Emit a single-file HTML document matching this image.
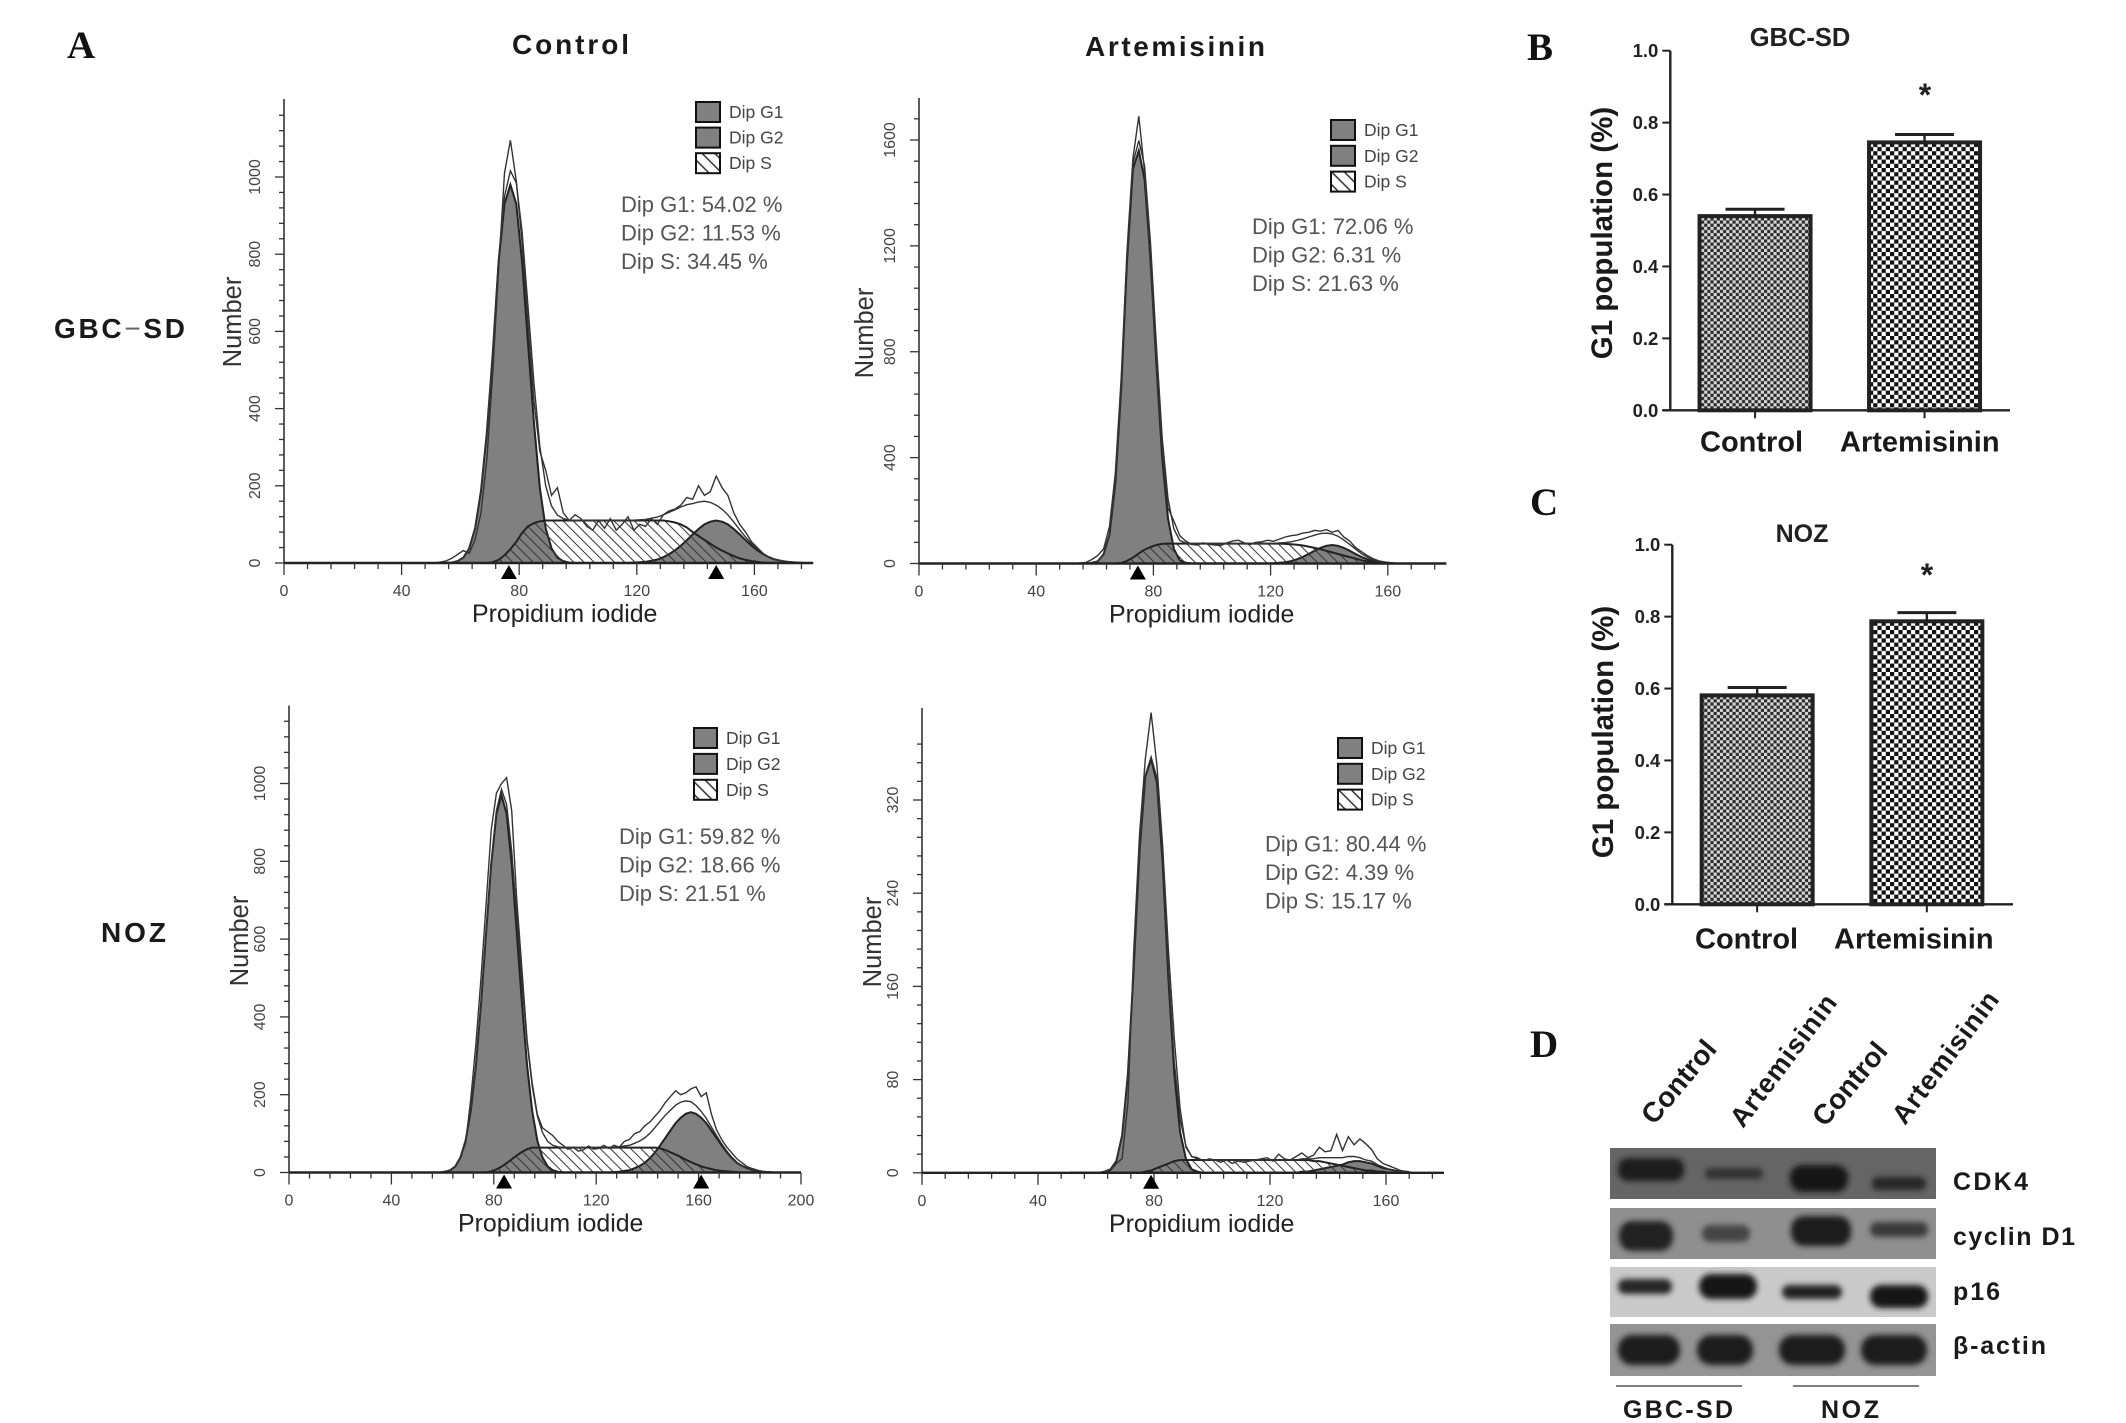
<!DOCTYPE html>
<html lang="en">
<head>
<meta charset="utf-8">
<title>Artemisinin cell cycle figure</title>
<style>
html,body{margin:0;padding:0;background:#fff}
svg{display:block}
text{font-family:"Liberation Sans",Arial,sans-serif}
.panel-letter{font-family:"Liberation Serif","Times New Roman",serif;font-weight:bold;font-size:39px;fill:#111}
.bold{font-weight:bold;fill:#1a1a1a}
</style>
</head>
<body>
<svg id="figure" xmlns="http://www.w3.org/2000/svg" width="2126" height="1423" viewBox="0 0 2126 1423">
<defs>
<pattern id="hatch" patternUnits="userSpaceOnUse" width="7.2" height="7.2" patternTransform="rotate(-45)"><line x1="1" y1="0" x2="1" y2="7.2" stroke="#333" stroke-width="1"/></pattern>
<pattern id="hatch-legend" patternUnits="userSpaceOnUse" width="9" height="9" patternTransform="rotate(-45)"><line x1="1" y1="0" x2="1" y2="9" stroke="#222" stroke-width="1.4"/></pattern>
<pattern id="checker-fine" patternUnits="userSpaceOnUse" width="6.3" height="6.3"><rect width="6.3" height="6.3" fill="#d8d8d8"/><rect width="3.15" height="3.15" fill="#2a2a2a"/><rect x="3.15" y="3.15" width="3.15" height="3.15" fill="#2a2a2a"/></pattern>
<pattern id="checker-coarse" patternUnits="userSpaceOnUse" width="8.4" height="8.4"><rect width="8.4" height="8.4" fill="#fff"/><rect width="4.2" height="4.2" fill="#111"/><rect x="4.2" y="4.2" width="4.2" height="4.2" fill="#111"/></pattern>
<filter id="blot-blur" x="-20%" y="-60%" width="140%" height="220%"><feGaussianBlur stdDeviation="3"/></filter>
<clipPath id="clip-s1"><rect x="1610" y="1148" width="326" height="51"/></clipPath>
<clipPath id="clip-s2"><rect x="1610" y="1208" width="326" height="51"/></clipPath>
<clipPath id="clip-s3"><rect x="1610" y="1267" width="326" height="50"/></clipPath>
<clipPath id="clip-s4"><rect x="1610" y="1324" width="326" height="52"/></clipPath>
</defs>

<text class="panel-letter" x="67" y="58">A</text>
<text class="panel-letter" x="1527" y="60">B</text>
<text class="panel-letter" x="1530" y="515">C</text>
<text class="panel-letter" x="1530" y="1057">D</text>

<text class="bold" x="512" y="54" font-size="28" textLength="117" lengthAdjust="spacing">Control</text>
<text class="bold" x="1085" y="56" font-size="28" textLength="180" lengthAdjust="spacing">Artemisinin</text>
<text class="bold" x="54" y="338" font-size="28" textLength="131" lengthAdjust="spacing">GBC<tspan font-weight="normal" fill="#666">−</tspan>SD</text>
<text class="bold" x="101" y="942" font-size="28" textLength="65" lengthAdjust="spacing">NOZ</text>

<g id="histograms"></g>
<g id="bars"></g>

<g>
  <g clip-path="url(#clip-s1)">
    <rect x="1610" y="1148" width="326" height="51" fill="#656565"/>
    <g filter="url(#blot-blur)">
      <rect x="1618" y="1158" width="66" height="23" rx="10" fill="#1a1a1a"/>
      <rect x="1705" y="1168" width="58" height="11" rx="5" fill="#333"/>
      <rect x="1790" y="1165" width="58" height="27" rx="12" fill="#141414"/>
      <rect x="1872" y="1177" width="54" height="13" rx="6" fill="#262626"/>
    </g>
  </g>
  <g clip-path="url(#clip-s2)">
    <rect x="1610" y="1208" width="326" height="51" fill="#8f8f8f"/>
    <g filter="url(#blot-blur)">
      <rect x="1619" y="1221" width="54" height="30" rx="13" fill="#222"/>
      <rect x="1702" y="1225" width="48" height="17" rx="8" fill="#444"/>
      <rect x="1791" y="1216" width="60" height="30" rx="13" fill="#1a1a1a"/>
      <rect x="1870" y="1222" width="58" height="15" rx="7" fill="#3a3a3a"/>
    </g>
  </g>
  <g clip-path="url(#clip-s3)">
    <rect x="1610" y="1267" width="326" height="50" fill="#cacaca"/>
    <g filter="url(#blot-blur)">
      <rect x="1618" y="1279" width="54" height="15" rx="7" fill="#252525"/>
      <rect x="1699" y="1274" width="58" height="25" rx="12" fill="#141414"/>
      <rect x="1782" y="1285" width="60" height="14" rx="7" fill="#202020"/>
      <rect x="1870" y="1285" width="58" height="23" rx="11" fill="#141414"/>
    </g>
  </g>
  <g clip-path="url(#clip-s4)">
    <rect x="1610" y="1324" width="326" height="52" fill="#949494"/>
    <g filter="url(#blot-blur)">
      <rect x="1618" y="1335" width="62" height="30" rx="14" fill="#1c1c1c"/>
      <rect x="1697" y="1335" width="56" height="30" rx="14" fill="#1c1c1c"/>
      <rect x="1779" y="1335" width="66" height="30" rx="14" fill="#1c1c1c"/>
      <rect x="1861" y="1335" width="66" height="30" rx="14" fill="#1c1c1c"/>
    </g>
  </g>
  <text class="bold" font-size="28" transform="translate(1654 1126) rotate(-50)">Control</text>
  <text class="bold" font-size="27" transform="translate(1743 1129) rotate(-53)" textLength="158" lengthAdjust="spacing">Artemisinin</text>
  <text class="bold" font-size="28" transform="translate(1825 1128) rotate(-50)">Control</text>
  <text class="bold" font-size="27" transform="translate(1905 1126) rotate(-53)" textLength="158" lengthAdjust="spacing">Artemisinin</text>
  <text class="bold" x="1953" y="1190" font-size="25" textLength="75" lengthAdjust="spacing">CDK4</text>
  <text class="bold" x="1953" y="1245" font-size="25" textLength="122" lengthAdjust="spacing">cyclin D1</text>
  <text class="bold" x="1953" y="1300" font-size="25" textLength="47" lengthAdjust="spacing">p16</text>
  <text class="bold" x="1953" y="1354" font-size="25" textLength="93" lengthAdjust="spacing">β-actin</text>
  <line x1="1616" y1="1386" x2="1742" y2="1386" stroke="#555" stroke-width="1.6"/>
  <line x1="1793" y1="1386" x2="1919" y2="1386" stroke="#555" stroke-width="1.6"/>
  <text class="bold" x="1623" y="1418" font-size="25" textLength="110" lengthAdjust="spacing">GBC-SD</text>
  <text class="bold" x="1821" y="1418" font-size="25" textLength="58" lengthAdjust="spacing">NOZ</text>
</g>
</svg>

<script>
// Shared channel positions (propidium iodide) for all histogram series
const channels = [51,53,55,57,59,61,63,65,67,69,71,73,75,77,79,81,83,85,87,89,91,93,95,97,99,101,103,105,107,109,111,113,115,117,119,121,123,125,127,129,131,133,135,137,139,141,143,145,147,149,151,153,155,157,159,161,163,165,167,169,171,173,175,177,179,181,183,185,187,189,191];

// GBC-SD control
const p1G1 = [0,0,0,1,5,14,38,90,187,340,541,780,930,980,930,780,570,365,195,90,38,14,5,1,0];
const p1G2 = [0,0,0,0,0,0,0,0,0,0,0,0,0,0,0,0,0,0,0,0,0,0,0,0,0,0,0,0,0,0,0,0,0,0,1,2,3,6,9,15,23,33,45,59,74,88,100,107,110,107,100,88,74,59,45,33,23,15,9,6,3,2,1,0];
const p1S = [0,0,0,0,0,0,0,0,0,0,2,8,20,36,55,78,95,103,108,110,110,110,110,110,110,110,110,110,110,110,110,110,110,110,110,110,110,110,110,110,108,105,100,92,80,70,60,50,40,32,25,18,12,8,5,3,1,0];
const p1Raw = [0,2,5,12,22,32,25,60,130,270,490,760,1010,1095,990,830,620,420,290,240,175,195,130,110,125,115,95,85,110,90,115,85,100,120,85,100,95,115,100,125,135,140,150,170,165,200,175,185,225,195,175,130,100,80,55,40,25,14,9,6,4,2,0];
const p1YTicks = [0,200,400,600,800,1000];
const p1Stats = ['Dip G1: 54.02 %','Dip G2: 11.53 %','Dip S: 34.45 %'];
const p1Peaks = [76.5,147];

// GBC-SD artemisinin
const p2G1 = [0,0,0,0,3,8,35,110,300,660,1140,1490,1560,1450,1150,760,400,170,55,12,3,0];
const p2G2 = [0,0,0,0,0,0,0,0,0,0,0,0,0,0,0,0,0,0,0,0,0,0,0,0,0,0,0,0,0,0,0,0,0,0,0,1,3,5,9,16,25,36,48,59,67,70,67,59,48,36,25,16,9,5,3,1,0];
const p2S = [0,0,0,0,0,0,0,0,0,2,10,22,38,52,62,70,74,75,75,75,75,75,75,75,75,75,75,75,75,75,75,75,75,75,75,75,75,74,73,71,68,64,59,54,48,42,36,30,24,18,12,8,5,3,1,0];
const p2Raw = [0,0,2,4,15,30,55,140,340,700,1180,1530,1690,1480,1120,780,430,210,160,105,85,72,70,78,72,70,68,78,85,88,78,72,80,82,88,84,92,100,105,108,115,118,125,122,128,118,125,100,85,60,45,30,18,10,6,3,0];
const p2YTicks = [0,400,800,1200,1600];
const p2Stats = ['Dip G1: 72.06 %','Dip G2: 6.31 %','Dip S: 21.63 %'];
const p2Peaks = [74.7];

// NOZ control
const p3G1 = [0,0,0,0,0,2,6,16,39,82,158,275,433,616,792,922,970,922,792,616,433,275,158,82,39,16,6,2,0];
const p3G2 = [0,0,0,0,0,0,0,0,0,0,0,0,0,0,0,0,0,0,0,0,0,0,0,0,0,0,0,0,0,0,0,0,0,0,0,0,0,0,1,2,4,6,11,17,25,37,52,70,89,108,127,141,151,155,151,141,127,108,89,70,52,37,25,17,11,6,4,2,1,0];
const p3S = [0,0,0,0,0,0,0,0,0,0,0,0,0,0,3,8,15,24,34,44,53,60,64,64,64,64,64,64,64,64,64,64,64,64,64,64,64,64,64,64,64,64,64,64,64,64,64,62,58,52,46,40,33,27,21,16,12,9,6,4,3,2,1,0];
const p3Raw = [0,0,0,0,1,3,6,15,40,75,190,330,500,690,880,975,1000,1015,930,700,520,340,230,150,115,105,95,80,70,60,65,55,58,68,60,62,70,62,70,65,80,85,100,105,120,130,145,160,180,195,210,200,205,215,220,195,205,150,110,85,65,50,35,25,15,10,6,3,2,1,0];
const p3YTicks = [0,200,400,600,800,1000];
const p3Stats = ['Dip G1: 59.82 %','Dip G2: 18.66 %','Dip S: 21.51 %'];
const p3Peaks = [84,161];

// NOZ artemisinin
const p4G1 = [0,0,0,0,0,0,1,3,10,32,85,175,275,340,355,335,265,165,85,35,12,3,1,0];
const p4G2 = [0,0,0,0,0,0,0,0,0,0,0,0,0,0,0,0,0,0,0,0,0,0,0,0,0,0,0,0,0,0,0,0,0,0,0,0,0,0,0,0,1,1,2,3,4,5,6,7,9,10,10,9,8,6,4,3,2,1,1,0];
const p4S = [0,0,0,0,0,0,0,0,0,0,0,0,0,1,2,4,6,8,10,11,11,11,11,11,11,11,11,11,11,11,11,11,11,11,11,11,11,11,11,11,11,11,10,10,9,8,7,6,5,4,3,2,2,1,1,0];
const p4Raw = [0,0,0,0,0,0,0,2,8,12,60,190,290,355,395,350,280,190,115,55,22,14,13,10,12,11,9,11,8,10,9,10,11,12,13,10,16,12,11,14,17,13,15,22,18,19,33,19,31,24,29,25,20,12,8,6,4,2,1,0];
const p4YTicks = [0,80,160,240,320];
const p4Stats = ['Dip G1: 80.44 %','Dip G2: 4.39 %','Dip S: 15.17 %'];
const p4Peaks = [79];

// Histogram x tick labels
const xTicks180 = [0,40,80,120,160];
const xTicks200 = [0,40,80,120,160,200];
const legendLabels = ['Dip G1','Dip G2','Dip S'];

// Bar charts
const barCategories = ['Control','Artemisinin'];
const gbcValues = [0.54,0.745];
const gbcErrors = [0.019,0.022];
const nozValues = [0.581,0.787];
const nozErrors = [0.022,0.024];
const barYTicks = [0,0.2,0.4,0.6,0.8,1];

const NS = 'http://www.w3.org/2000/svg';
function make(tag, parent){
  const el = document.createElementNS(NS, tag);
  parent.appendChild(el);
  return el;
}
function set(el, props){
  for(const k in props){ el.setAttribute(k, props[k]); }
  return el;
}

function areaPath(values, xf, yf){
  let d = 'M' + xf(channels[0]) + ' ' + yf(0);
  values.forEach(function(v,i){ d += 'L' + xf(channels[i]).toFixed(1) + ' ' + yf(v).toFixed(1); });
  d += 'L' + xf(channels[values.length-1]).toFixed(1) + ' ' + yf(0) + 'Z';
  return d;
}
function linePath(values, xf, yf){
  return values.map(function(v,i){ return (i?'L':'M') + xf(channels[i]).toFixed(1) + ' ' + yf(v).toFixed(1); }).join('');
}

function drawHistogram(root, cfg, g1, g2, s, raw, yTicks, xTicks, stats, peaks){
  const g = make('g', root);
  
  
  const xf = function(v){ return cfg.x0 + v*cfg.xs; };
  const yf = function(v){ return cfg.y0 - v*cfg.ys; };

  // Components
  const g1Path = make('path', g);
  
  
  set(g1Path, {d:areaPath(g1,xf,yf), fill:'#808080', stroke:'#222', 'stroke-width':2});
  const g2Path = make('path', g);
  
  
  set(g2Path, {d:areaPath(g2,xf,yf), fill:'#808080', stroke:'#222', 'stroke-width':2});
  const sPath = make('path', g);
  
  
  set(sPath, {d:areaPath(s,xf,yf), fill:'url(#hatch)', stroke:'#222', 'stroke-width':2});

  // Total fit = sum of components, only over the channels the components cover
  const fitLength = Math.max(g1.length, g2.length, s.length);
  const fit = channels.slice(0, fitLength).map(function(c,i){ return (g1[i]||0)+(g2[i]||0)+(s[i]||0); });
  const fitPath = make('path', g);
  
  
  set(fitPath, {d:linePath(fit,xf,yf), fill:'none', stroke:'#333', 'stroke-width':1.4});
  const rawPath = make('path', g);
  
  
  set(rawPath, {d:linePath(raw,xf,yf), fill:'none', stroke:'#333', 'stroke-width':1.4});

  // Axes
  const yAxis = make('line', g);
  
  
  set(yAxis, {x1:cfg.x0, x2:cfg.x0, y1:cfg.y0, y2:cfg.top, stroke:'#333', 'stroke-width':1.6});
  const xAxis = make('line', g);
  
  
  set(xAxis, {x1:cfg.x0, x2:xf(cfg.xMax), y1:cfg.y0, y2:cfg.y0, stroke:'#222', 'stroke-width':2.4});

  // X ticks
  for(let v=0; v<=cfg.xMax; v+=8){
    const isMajor = v%40===0;
    const t = make('line', g);
    
    
    set(t, {x1:xf(v), x2:xf(v), y1:cfg.y0, y2:cfg.y0+(isMajor?12:6), stroke:'#333', 'stroke-width':1.3});
  }
  xTicks.forEach(function(v){
    const t = make('text', g);
    
    
    set(t, {x:xf(v), y:cfg.y0+33, 'font-size':16, 'text-anchor':'middle', fill:'#444'});
    t.textContent = v;
  });

  // Y ticks
  const minorCount = Math.floor(cfg.yMax/cfg.yMinor);
  for(let i=0;i<=minorCount;i++){
    const v = i*cfg.yMinor;
    const isMajor = yTicks.indexOf(v)>=0;
    const t = make('line', g);
    
    
    set(t, {x1:cfg.x0, x2:cfg.x0-(isMajor?9:5), y1:yf(v), y2:yf(v), stroke:'#333', 'stroke-width':1.3});
  }
  yTicks.forEach(function(v){
    const t = make('text', g);
    
    
    set(t, {'font-size':16, 'text-anchor':'middle', fill:'#444', transform:'translate('+(cfg.x0-24)+' '+yf(v)+') rotate(-90)'});
    t.textContent = v;
  });

  // Axis titles
  const yTitle = make('text', g);
  
  
  set(yTitle, {'font-size':25.5, 'text-anchor':'middle', fill:'#333', transform:'translate('+cfg.yTitleX+' '+cfg.yTitleY+') rotate(-90)'});
  yTitle.textContent = 'Number';
  const xTitle = make('text', g);
  
  
  set(xTitle, {x:cfg.xTitleX, y:cfg.y0+59, 'font-size':24.9, fill:'#222'});
  xTitle.textContent = 'Propidium iodide';

  // Peak markers
  peaks.forEach(function(p){
    const m = make('path', g);
    
    
    const px = xf(p);
    set(m, {d:'M'+(px-8)+' '+(cfg.y0+16)+'L'+px+' '+(cfg.y0+2)+'L'+(px+8)+' '+(cfg.y0+16)+'Z', fill:'#000'});
  });

  // Legend
  legendLabels.forEach(function(label,i){
    const sw = make('rect', g);
    
    
    set(sw, {x:cfg.legX, y:cfg.legY+i*cfg.legStep, width:cfg.legW, height:20, fill:i===2?'url(#hatch-legend)':'#808080', stroke:'#111', 'stroke-width':2});
    const t = make('text', g);
    
    
    set(t, {x:cfg.legX+cfg.legW+9, y:cfg.legY+i*cfg.legStep+16, 'font-size':17.5, fill:'#444'});
    t.textContent = label;
  });

  // Stats
  stats.forEach(function(line,i){
    const t = make('text', g);
    
    
    set(t, {x:cfg.statX, y:cfg.statY+i*28.5, 'font-size':22, fill:'#555'});
    t.textContent = line;
  });
}

const histRoot = document.getElementById('histograms');
drawHistogram(histRoot, {id:'gbc-control', x0:284, y0:563, xs:2.94, ys:0.386, top:99, xMax:180, yMax:1160, yMinor:40, yTitleX:241, yTitleY:322, xTitleX:472, legX:696, legY:102, legW:24, legStep:25.6, statX:621, statY:212}, p1G1, p1G2, p1S, p1Raw, p1YTicks, xTicks180, p1Stats, p1Peaks);
drawHistogram(histRoot, {id:'gbc-artemisinin', x0:919, y0:563.5, xs:2.93, ys:0.2647, top:98, xMax:180, yMax:1680, yMinor:80, yTitleX:873, yTitleY:333, xTitleX:1109, legX:1331, legY:120, legW:24, legStep:25.8, statX:1252, statY:234}, p2G1, p2G2, p2S, p2Raw, p2YTicks, xTicks180, p2Stats, p2Peaks);
drawHistogram(histRoot, {id:'noz-control', x0:289, y0:1172.5, xs:2.56, ys:0.389, top:705.5, xMax:200, yMax:1160, yMinor:40, yTitleX:248, yTitleY:941, xTitleX:458, legX:694, legY:728, legW:23, legStep:25.9, statX:619, statY:844}, p3G1, p3G2, p3S, p3Raw, p3YTicks, xTicks200, p3Stats, p3Peaks);
drawHistogram(histRoot, {id:'noz-artemisinin', x0:922, y0:1172.8, xs:2.9, ys:1.165, top:708, xMax:180, yMax:368, yMinor:16, yTitleX:881, yTitleY:942, xTitleX:1109, legX:1338, legY:738, legW:24, legStep:25.8, statX:1265, statY:851.5}, p4G1, p4G2, p4S, p4Raw, p4YTicks, xTicks180, p4Stats, p4Peaks);

function drawBarChart(root, cfg, values, errors){
  const g = make('g', root);
  
  
  const yf = function(v){ return cfg.y0 - v*cfg.ys; };
  const xf = function(i){ return cfg.x0 + (i+0.5)*cfg.band; };
  const fills = ['url(#checker-fine)','url(#checker-coarse)'];

  values.forEach(function(v,i){
    const cx = xf(i);
    const stem = make('line', g);
    
    
    set(stem, {x1:cx, x2:cx, y1:yf(v), y2:yf(v+errors[i]), stroke:'#222', 'stroke-width':2.4});
    const cap = make('line', g);
    
    
    set(cap, {x1:cx-29.5, x2:cx+29.5, y1:yf(v+errors[i]), y2:yf(v+errors[i]), stroke:'#222', 'stroke-width':3});
    const bar = make('rect', g);
    
    
    set(bar, {x:cx-55.5, y:yf(v), width:111, height:cfg.y0-yf(v), fill:fills[i], stroke:'#222', 'stroke-width':4});
    const tick = make('line', g);
    
    
    set(tick, {x1:cx, x2:cx, y1:cfg.y0, y2:cfg.y0+8, stroke:'#222', 'stroke-width':2});
    const lab = make('text', g);
    
    
    set(lab, {x:cfg.labelX[i], y:cfg.y0+cfg.labelDy, 'font-size':29, 'font-weight':'bold', fill:'#1a1a1a'});
    lab.textContent = barCategories[i];
  });

  const yAxis = make('line', g);
  
  
  set(yAxis, {x1:cfg.x0, x2:cfg.x0, y1:cfg.y0, y2:yf(1), stroke:'#222', 'stroke-width':2.4});
  const xAxis = make('line', g);
  
  
  set(xAxis, {x1:cfg.x0-8, x2:cfg.xEnd, y1:cfg.y0, y2:cfg.y0, stroke:'#222', 'stroke-width':2.4});

  barYTicks.forEach(function(v){
    const t = make('line', g);
    
    
    set(t, {x1:cfg.x0, x2:cfg.x0-8, y1:yf(v), y2:yf(v), stroke:'#222', 'stroke-width':2});
    const l = make('text', g);
    
    
    set(l, {x:cfg.x0-12, y:yf(v)+6.5, 'font-size':18.5, 'font-weight':'bold', 'text-anchor':'end', fill:'#222'});
    l.textContent = v.toFixed(1);
  });

  const yTitle = make('text', g);
  
  
  set(yTitle, {'font-size':29.5, 'font-weight':'bold', 'text-anchor':'middle', fill:'#1a1a1a', transform:'translate('+cfg.yTitleX+' '+cfg.yTitleY+') rotate(-90)'});
  yTitle.textContent = 'G1 population (%)';

  const title = make('text', g);
  
  
  set(title, {x:cfg.titleX, y:cfg.titleY, 'font-size':cfg.titleSize, 'font-weight':'bold', fill:'#222', 'text-anchor':'middle'});
  title.textContent = cfg.title;

  const star = make('text', g);
  
  
  set(star, {x:cfg.starX, y:cfg.starY, 'font-size':32, 'font-weight':'bold', fill:'#222', 'text-anchor':'middle'});
  star.textContent = '*';
}

const barRoot = document.getElementById('bars');
drawBarChart(barRoot, {id:'gbc-sd', title:'GBC-SD', titleSize:25.5, x0:1670.3, y0:410.3, ys:359.6, band:169.5, xEnd:2010, labelX:[1700,1840], labelDy:41, yTitleX:1612, yTitleY:233, titleX:1800, titleY:46, starX:1925, starY:106}, gbcValues, gbcErrors);
drawBarChart(barRoot, {id:'noz', title:'NOZ', titleSize:25, x0:1672.3, y0:904.3, ys:359.6, band:169.7, xEnd:2013, labelX:[1695,1834], labelDy:44, yTitleX:1613, yTitleY:732, titleX:1802, titleY:542, starX:1927, starY:586}, nozValues, nozErrors);
</script>
</body>
</html>
